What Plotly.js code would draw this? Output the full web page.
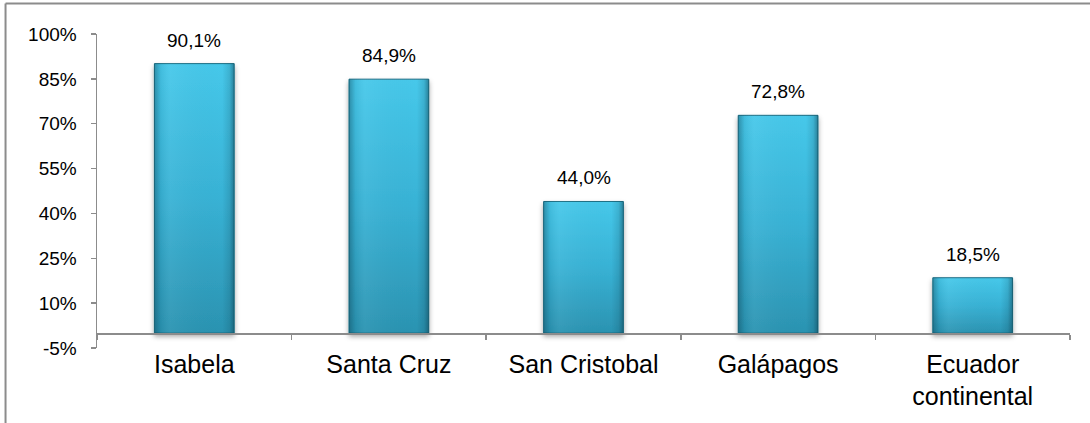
<!DOCTYPE html>
<html>
<head>
<meta charset="utf-8">
<script src="https://cdn.plot.ly/plotly-3.0.1.min.js"></script>
<style>
html,body{margin:0;padding:0;background:#fff;}
#chart{width:1090px;height:423px;}
</style>
</head>
<body>
<div id="chart"></div>
<script>
const categories = ["Isabela", "Santa Cruz", "San Cristobal", "Galápagos", "Ecuador<br>continental"];
const values = [90.1, 84.9, 44.0, 72.8, 18.5];
const yTickVals = [-5, 10, 25, 40, 55, 70, 85, 100];
const yTickText = ["-5%", "10%", "25%", "40%", "55%", "70%", "85%", "100%"];

const FONT = "Liberation Sans, Arial, sans-serif";

const baseBar = {
  type: "bar",
  x: categories,
  y: values,
  width: 0.41,
  marker: {color: "#34acd0", line: {color: "#1b6e84", width: 1}},
  hoverinfo: "x+y",
  showlegend: false
};
const shadeBar = {
  type: "bar",
  x: categories,
  y: values,
  width: 0.41,
  marker: {color: "rgba(0,0,0,0)", line: {width: 0}},
  hoverinfo: "skip",
  showlegend: false
};

const annotations = categories.map((c, i) => ({
  x: c, y: values[i], xref: "x", yref: "y",
  text: values[i].toFixed(1).replace(".", ",") + "%",
  showarrow: false, yanchor: "bottom", yshift: 11,
  font: {family: FONT, size: 19, color: "#000"}
}));

const layout = {
  width: 1090, height: 423,
  margin: {l: 97, r: 20, t: 34, b: 75, pad: 0},
  paper_bgcolor: "#fff", plot_bgcolor: "#fff",
  barmode: "overlay",
  font: {family: FONT, color: "#000"},
  xaxis: {
    type: "category",
    anchor: "free", position: 5 / 105,
    showline: true, linecolor: "#8c8c8c", linewidth: 1.5,
    ticks: "outside", tickson: "boundaries", ticklen: 5, tickcolor: "#8c8c8c", tickwidth: 1.5,
    ticklabelstandoff: 8,
    tickfont: {family: FONT, size: 25, color: "#000"},
    showgrid: false, zeroline: false, fixedrange: true
  },
  yaxis: {
    range: [-5, 100],
    tickmode: "array", tickvals: yTickVals, ticktext: yTickText,
    showline: true, linecolor: "#8c8c8c", linewidth: 1.5,
    ticks: "outside", ticklen: 5, tickcolor: "#8c8c8c", tickwidth: 1.5,
    ticklabelstandoff: 10,
    tickfont: {family: FONT, size: 19, color: "#000"},
    showgrid: false, zeroline: false, fixedrange: true
  },
  annotations: annotations,
  shapes: [
    {type: "line", xref: "paper", yref: "paper", x0: -0.0940, x1: 1.05, y0: 1.0971, y1: 1.0971,
     line: {color: "#8c8c8c", width: 2}},
    {type: "line", xref: "paper", yref: "paper", x0: -0.0940, x1: -0.0940, y0: -0.4, y1: 1.0971,
     line: {color: "#8c8c8c", width: 2}}
  ]
};

Plotly.newPlot("chart", [baseBar, shadeBar], layout, {displayModeBar: false, staticPlot: true}).then(gd => {
  const svg = gd.querySelector("svg.main-svg");
  const NS = "http://www.w3.org/2000/svg";
  let defs = svg.querySelector("defs");
  if (!defs) { defs = document.createElementNS(NS, "defs"); svg.insertBefore(defs, svg.firstChild); }
  const mk = (id, attrs, stops) => {
    const g = document.createElementNS(NS, "linearGradient");
    g.setAttribute("id", id);
    for (const k in attrs) g.setAttribute(k, attrs[k]);
    stops.forEach(s => {
      const st = document.createElementNS(NS, "stop");
      st.setAttribute("offset", s[0]);
      st.setAttribute("stop-color", s[1]);
      st.setAttribute("stop-opacity", s[2]);
      g.appendChild(st);
    });
    defs.appendChild(g);
  };
  mk("vgrad", {x1: 0, y1: 0, x2: 0, y2: 1}, [["0", "#46c8ea", 1], ["0.5", "#38b2d5", 1], ["1", "#2b93b1", 1]]);
  mk("hgrad", {x1: 0, y1: 0, x2: 1, y2: 0}, [["0", "#0b3a4a", 0.4], ["0.08", "#0b3a4a", 0.08], ["0.2", "#ffffff", 0.05], ["0.85", "#0b3a4a", 0.0], ["0.94", "#0b3a4a", 0.15], ["1", "#0b3a4a", 0.5]]);
  const f = document.createElementNS(NS, "filter");
  f.setAttribute("id", "bshadow");
  f.setAttribute("x", "-20%"); f.setAttribute("y", "-10%");
  f.setAttribute("width", "140%"); f.setAttribute("height", "130%");
  const ds = document.createElementNS(NS, "feDropShadow");
  ds.setAttribute("dx", "0"); ds.setAttribute("dy", "3");
  ds.setAttribute("stdDeviation", "2.5");
  ds.setAttribute("flood-color", "#000"); ds.setAttribute("flood-opacity", "0.35");
  f.appendChild(ds);
  defs.appendChild(f);
  const traces = gd.querySelectorAll(".barlayer .trace");
  if (traces[0]) traces[0].querySelectorAll(".point path").forEach(p => {
    p.style.fill = "url(#vgrad)";
    p.setAttribute("filter", "url(#bshadow)");
  });
  if (traces[1]) traces[1].querySelectorAll(".point path").forEach(p => {
    p.style.fill = "url(#hgrad)";
    p.style.fillOpacity = 1;
  });
});
</script>
</body>
</html>
